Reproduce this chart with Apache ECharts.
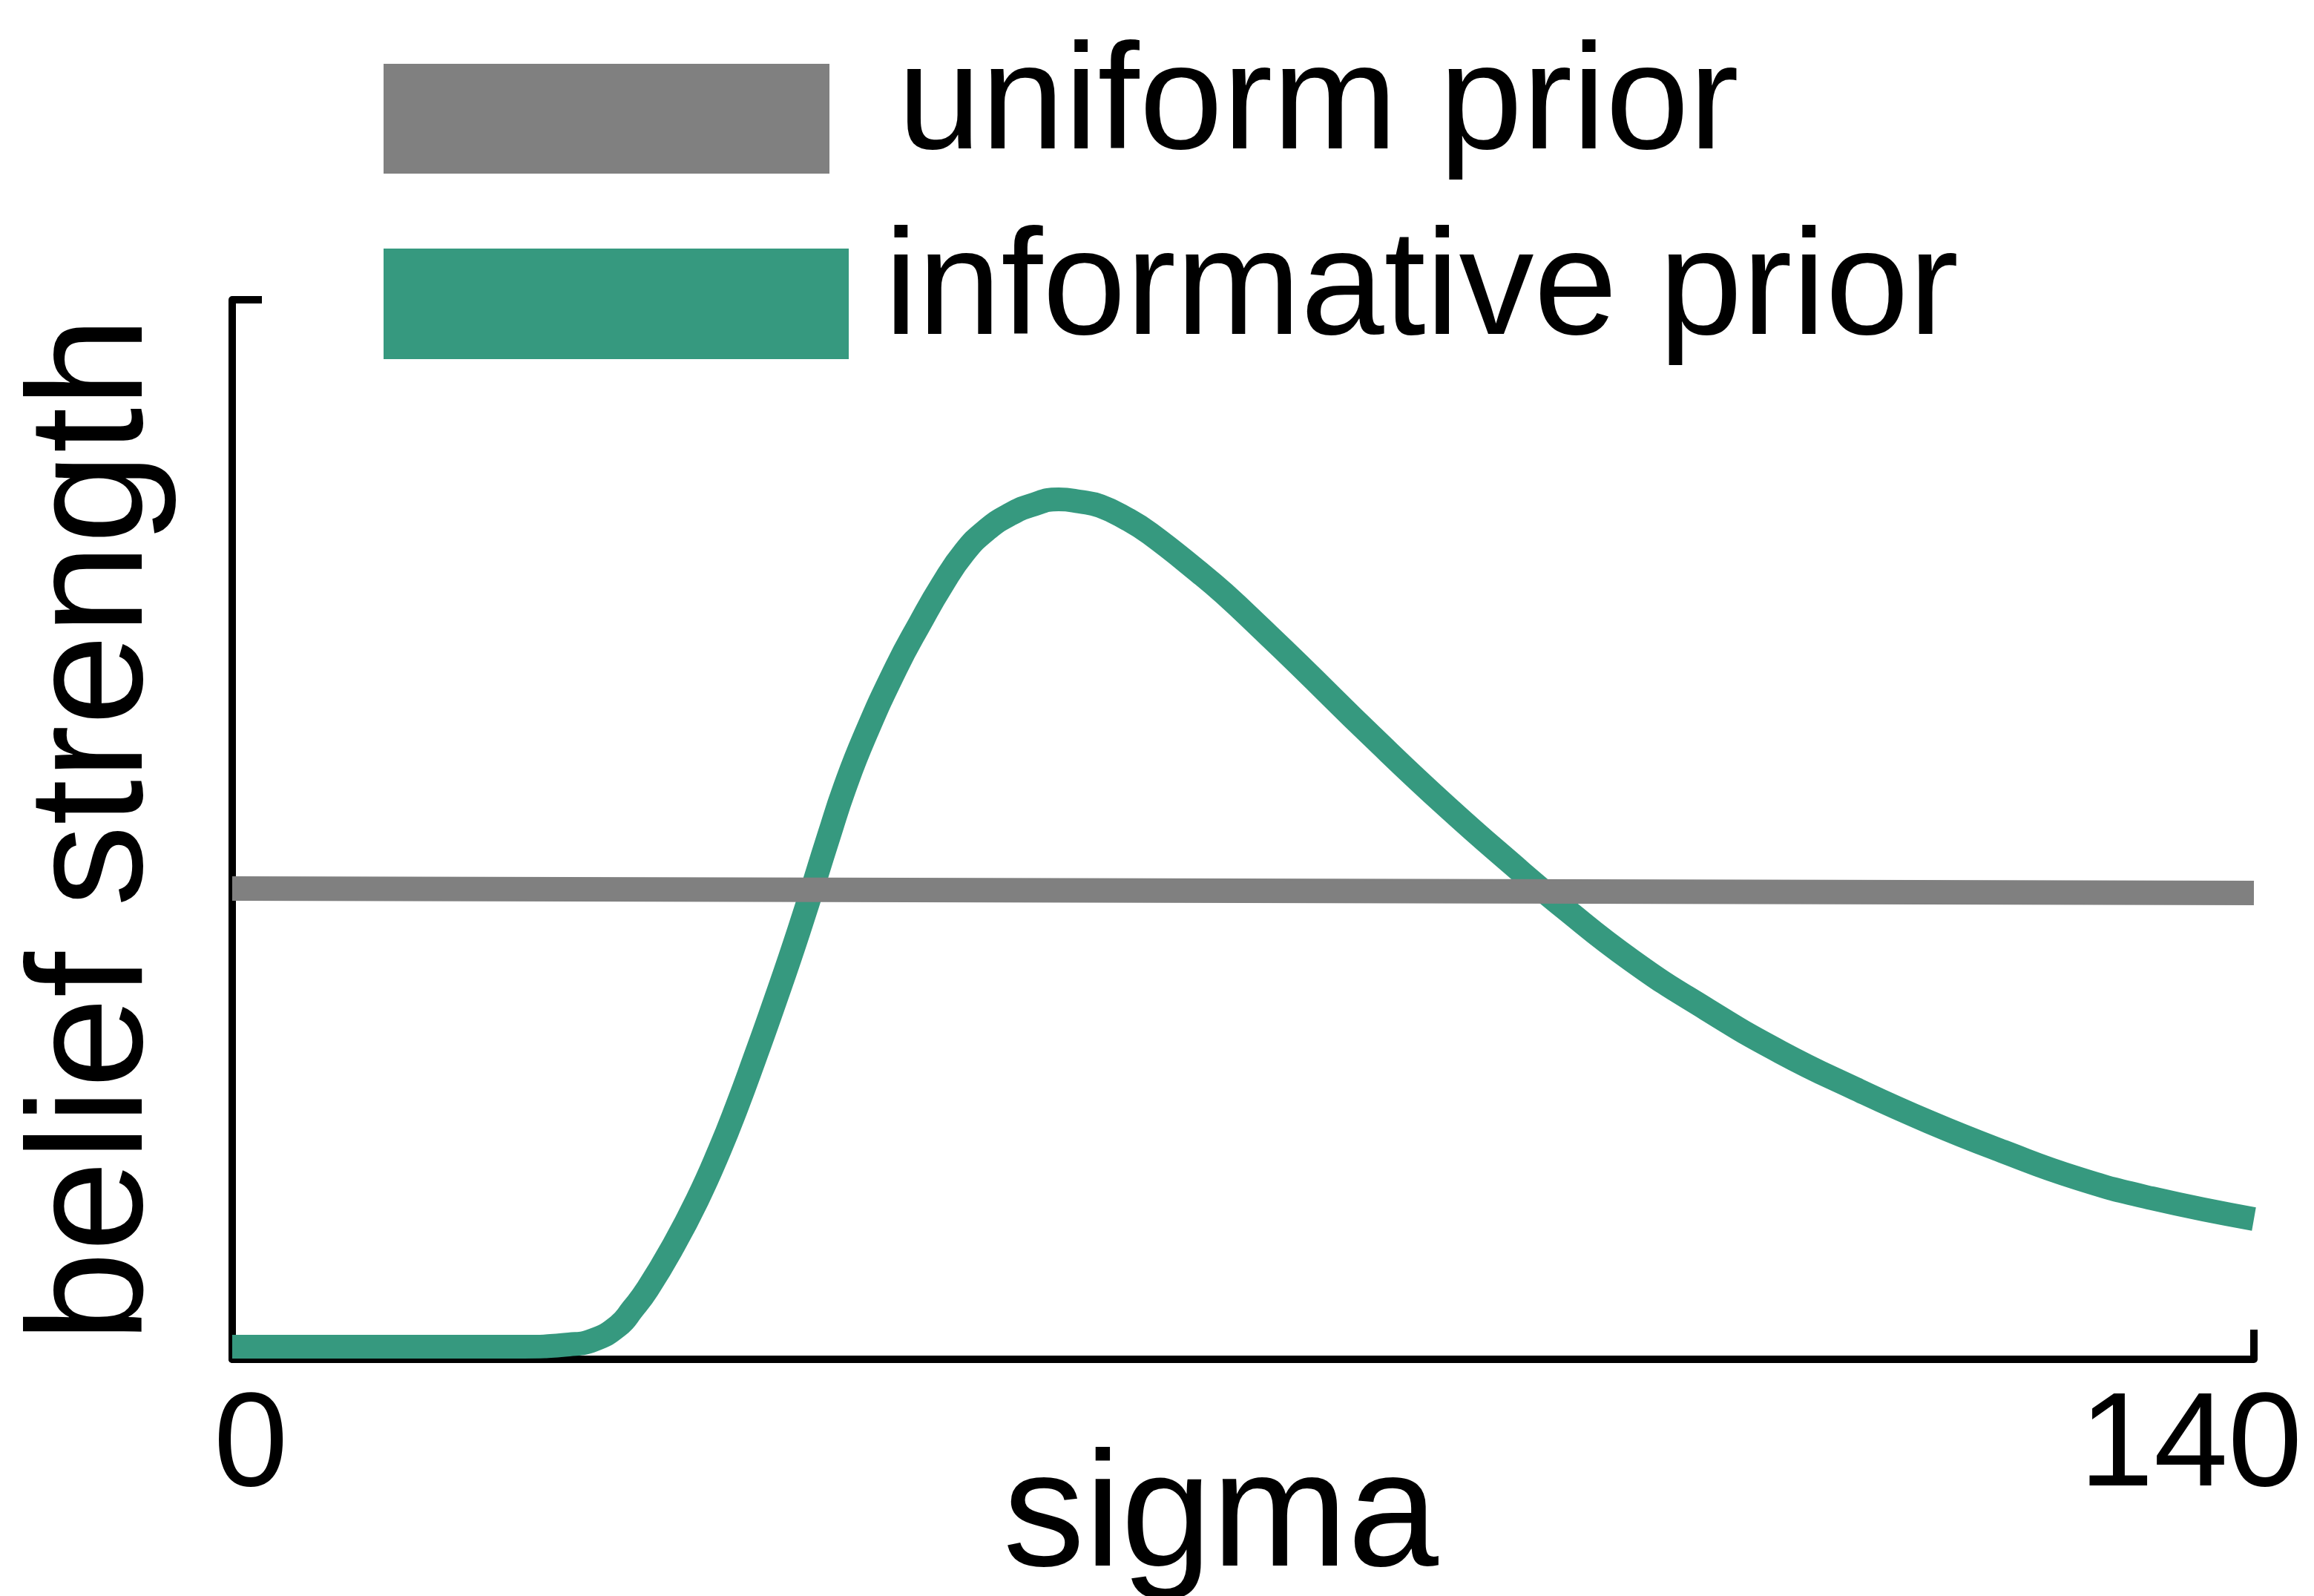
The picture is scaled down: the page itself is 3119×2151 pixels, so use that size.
<!DOCTYPE html>
<html>
<head>
<meta charset="utf-8">
<script src="https://cdn.jsdelivr.net/npm/echarts@6/dist/echarts.min.js"></script>
<style>html,body{margin:0;padding:0;background:#fff}#c{width:3119px;height:2151px}</style>
</head>
<body>
<div id="c"></div>
<script>
// ---- data ----
const sigmaGrid = [0, 19.88, 23.32, 25.01, 26.72, 27.74, 28.77, 30.52, 32.21, 33.75, 34.94, 36.17, 37.45, 39.25, 41.36, 42.39, 43.77, 45.98, 47.63, 49.17, 50.71, 52.25, 53.79, 55.33, 57.23, 58.67, 60.11, 62.01, 63.55, 67.0, 68.69, 71.26, 73.83, 78.97, 84.10, 89.24, 91.81, 96.95, 102.09, 107.22, 112.36, 117.50, 122.64, 127.78, 132.92, 140];
const informative = [0.0119, 0.0119, 0.0140, 0.0182, 0.0315, 0.0476, 0.0665, 0.1064, 0.1506, 0.1975, 0.2381, 0.2836, 0.3326, 0.4048, 0.4958, 0.5385, 0.5868, 0.6527, 0.6947, 0.7311, 0.7619, 0.7829, 0.7969, 0.8060, 0.8116, 0.8095, 0.8053, 0.7927, 0.7794, 0.7423, 0.7227, 0.6898, 0.6562, 0.5875, 0.5217, 0.4601, 0.4307, 0.3761, 0.3305, 0.2899, 0.2556, 0.2241, 0.1961, 0.1709, 0.1520, 0.1324];
const uniformX = [0, 140];
const uniform = [0.4443, 0.4401];
const xTicks = [0, 140];
const seriesNames = ['uniform prior', 'informative prior'];
const xName = 'sigma';
const yName = 'belief strength';

const GREEN = '#36997f', GRAY = '#808080';
const FONT = 'Liberation Sans';

const chart = echarts.init(document.getElementById('c'), null, {renderer: 'canvas'});
const zip = (xs, ys) => xs.map((x, i) => [x, ys[i]]);

chart.setOption({
  animation: false,
  backgroundColor: '#fff',
  textStyle: {fontFamily: FONT, color: '#000'},
  grid: {left: 313, right: 81, top: 404, bottom: 319, containLabel: false, outerBoundsMode: 'none'},
  graphic: [
    {type: 'rect', left: 517, top: 86, shape: {width: 601, height: 148}, style: {fill: GRAY}},
    {type: 'text', x: 1210, y: 144, style: {text: seriesNames[0], fill: '#000', fontSize: 202, fontFamily: FONT, verticalAlign: 'middle', align: 'left'}},
    {type: 'rect', left: 517, top: 335, shape: {width: 627, height: 149}, style: {fill: GREEN}},
    {type: 'text', x: 1192, y: 394, style: {text: seriesNames[1], fill: '#000', fontSize: 202, fontFamily: FONT, verticalAlign: 'middle', align: 'left'}}
  ],
  xAxis: {
    type: 'value', min: xTicks[0], max: xTicks[1], interval: xTicks[1] - xTicks[0],
    name: xName, nameLocation: 'middle', nameGap: 107, nameMoveOverlap: false,
    nameTextStyle: {fontSize: 220, fontFamily: FONT, color: '#000', padding: [0, 60, 0, 0]},
    axisLine: {lineStyle: {color: '#000', width: 10}},
    axisTick: {inside: true, length: 40, lineStyle: {color: '#000', width: 10}},
    splitLine: {show: false},
    axisLabel: {
      margin: 30, color: '#000', fontSize: 180, fontFamily: FONT,
      formatter: v => (v === xTicks[0] ? '{a|' + v + '}' : '{b|' + v + '}'),
      rich: {
        a: {fontSize: 180, fontFamily: FONT, color: '#000', padding: [0, 0, 0, 50]},
        b: {fontSize: 180, fontFamily: FONT, color: '#000', padding: [0, 170, 0, 0]}
      }
    }
  },
  yAxis: {
    type: 'value', min: 0, max: 1, interval: 1,
    name: yName, nameLocation: 'middle', nameGap: 73, nameRotate: 90, nameMoveOverlap: false,
    nameTextStyle: {fontSize: 220, fontFamily: FONT, color: '#000'},
    axisLine: {show: true, lineStyle: {color: '#000', width: 10}},
    axisTick: {show: true, inside: true, length: 40, lineStyle: {color: '#000', width: 10}},
    axisLabel: {show: false},
    splitLine: {show: false}
  },
  series: [
    {
      name: seriesNames[1], type: 'line', data: zip(sigmaGrid, informative),
      smooth: 0.5, showSymbol: false, symbol: 'none',
      lineStyle: {color: GREEN, width: 32}, itemStyle: {color: GREEN}
    },
    {
      name: seriesNames[0], type: 'line', data: zip(uniformX, uniform),
      showSymbol: false, symbol: 'none',
      lineStyle: {color: GRAY, width: 33}, itemStyle: {color: GRAY}
    }
  ]
});
</script>
</body>
</html>
